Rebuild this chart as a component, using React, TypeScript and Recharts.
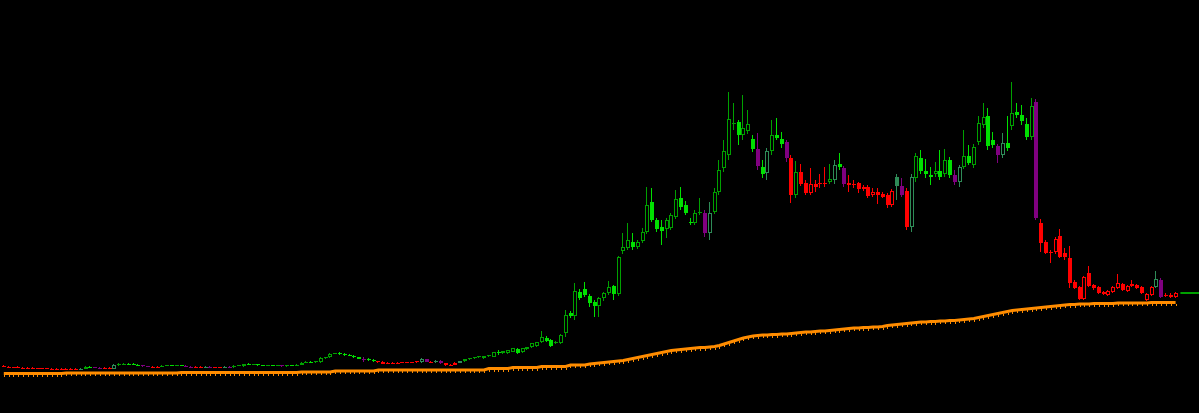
import React from 'react';
import { ComposedChart, Bar, Line, XAxis, YAxis } from 'recharts';

// trend colour per candle: g = green, r = red, p = purple/teal, t = teal
const TREND =
  'rrrrrrrrrr' + 'rrrrrrpggp' + 'prrpgggggp' + 'prrgggggpp' + 'rrpprrppgg' +
  'ggggggggpg' + 'gggggggggg' + 'gggggpggrr' + 'rrrrrrrppr' + 'pprrrpgggg' +
  'gggggggggg' + 'gggggggggg' + 'gggggggggg' + 'gggggggggg' + 'ggggggppgg' +
  'gggggggpgp' + 'gggprgrrrr' + 'rrgpgprrrr' + 'rrrrrrtprp' + 'ggggggggpp' +
  'gggggggppg' + 'gggggprrrr' + 'rrrrrrrrrr' + 'rrrrrrrrrr' + 'pprrr';

const OPEN = [
  134, 133.5, 133, 133, 132.5, 132.5, 132, 132, 131.5, 132,
  131.5, 131.5, 131, 131.5, 131, 131.5, 131, 131.5, 133.5, 133,
  132.5, 132, 132.5, 131.5, 135, 136, 136.5, 136, 135.5, 135,
  134, 133.5, 133, 133.5, 134.5, 135, 134.5, 135, 134.5, 133.5,
  133, 133.5, 133, 133.5, 133, 132.5, 133, 133.5, 133, 134.5,
  134, 136, 135.5, 136, 135, 134.5, 135, 134.5, 135, 134,
  135, 134.5, 135.5, 137.5, 138.5, 138, 138, 142, 143, 146.5,
  147, 146.5, 145.5, 144.5, 143, 141.5, 141, 140, 139, 138,
  136.5, 137.5, 137, 137.5, 138, 137.5, 138, 138, 141, 138.5,
  138, 139.5, 137, 135, 135.5, 137.5, 139, 141, 142, 143,
  142.5, 144, 143.5, 148, 147, 147, 148.5, 151, 148, 151,
  153, 154, 158, 162, 160, 157, 157, 167, 187, 184,
  208, 211, 204, 198, 194, 202, 207, 214, 206, 249,
  252, 258, 253, 259, 268, 298, 280, 273, 271, 272,
  283, 302, 295, 278, 277, 287, 287, 267, 288, 308,
  332, 345, 376, 378, 365, 369, 361, 351, 333, 327,
  349, 365, 361, 358, 342, 305, 328, 317, 307, 316,
  316, 317, 318, 320, 336, 332, 317, 316, 317, 311,
  313, 305, 308, 306, 305, 295, 323, 314, 309, 273,
  322, 342, 329, 325, 326, 329, 326, 340, 325, 318,
  333, 344, 335, 358, 375, 384, 360, 354, 345, 357,
  374, 388, 385, 376, 363, 398, 277, 258, 248, 248,
  264, 247, 242, 218, 213, 201, 227, 215, 213, 208,
  205, 208, 212, 216, 209, 214, 215, 213, 200, 205,
  213, 220, 205, 205, 203,
];

const HIGH = [
  135, 134, 133.5, 134, 133, 133, 133, 132.5, 132.5, 132.5,
  132, 132, 132, 132, 132.5, 132, 132, 134, 134, 133.5,
  133.5, 133, 133, 136, 137, 137.5, 137, 137, 136.5, 135.5,
  134.5, 134, 134, 135, 135.5, 135.5, 135.5, 135.5, 135, 134,
  134, 134, 134, 134, 133.5, 133.5, 134, 134, 135, 135.5,
  136.5, 137, 136.5, 136.5, 135.5, 135.5, 135.5, 135.5, 135.5, 135.5,
  135.5, 136, 138, 139, 139.5, 139.5, 143, 143.5, 147, 147.5,
  148, 147.5, 146, 145.5, 143.5, 143, 142, 141, 139.5, 139,
  138.5, 138, 138, 138.5, 138.5, 138.5, 139.5, 142, 141.5, 139,
  140, 140, 137.5, 136, 138, 139.5, 141.5, 142.5, 143.5, 144.5,
  144.5, 145.5, 148.5, 150, 149.5, 150.5, 152.5, 152, 152.5, 153.5,
  157.5, 158.5, 169, 164, 161, 159, 166, 190, 189, 217,
  211, 218, 206, 200, 203, 208, 219, 215, 244, 267,
  277, 267, 260, 272, 313, 312, 282, 280, 282, 287,
  310, 313, 299, 282, 290, 302, 290, 298, 312, 340,
  360, 408, 397, 380, 405, 390, 365, 367, 340, 352,
  380, 382, 368, 360, 345, 339, 336, 320, 332, 320,
  326, 333, 336, 340, 347, 334, 325, 320, 318, 315,
  315, 312, 312, 308, 307, 311, 326, 322, 312, 326,
  347, 350, 341, 333, 338, 350, 351, 343, 330, 335,
  370, 355, 356, 384, 397, 392, 368, 356, 367, 384,
  418, 397, 395, 382, 402, 401, 281, 260, 250, 263,
  271, 252, 254, 220, 214, 224, 234, 216, 214, 209,
  210, 214, 226, 217, 215, 220, 216, 214, 207, 214,
  229, 222, 207, 207, 208,
];

const LOW = [
  133, 132, 132, 132, 131.5, 131, 131, 131, 131, 131,
  130.5, 130, 130.5, 130.5, 130.5, 130.5, 130.5, 131, 132.5, 132,
  131.5, 131.5, 131, 131, 134, 135, 135.5, 135, 134.5, 133.5,
  133, 132.5, 132.5, 133, 134, 134, 134, 134, 133, 132.5,
  132.5, 132.5, 132.5, 132.5, 132, 132, 132, 132.5, 132.5, 134,
  133.5, 135, 135, 134.5, 134, 134, 134, 134, 133.5, 133.5,
  134, 134, 135, 137, 137.5, 137.5, 137.5, 141, 142.5, 146,
  145, 144, 144, 142.5, 141, 138, 139, 138.5, 137.5, 136,
  136, 136, 136.5, 137, 137, 137, 137.5, 137.5, 138, 137.5,
  137.5, 136.5, 134.5, 134, 135, 137, 138.5, 140.5, 141.5, 142,
  141.5, 143, 143, 145, 146, 146.5, 148, 146.5, 147.5, 150,
  152.5, 153, 157, 158, 153, 156, 156, 163, 182, 180,
  200, 203, 193, 183, 183, 199, 205, 200, 204, 246,
  250, 250, 251, 257, 266, 278, 268, 255, 262, 270,
  281, 290, 285, 275, 275, 285, 263, 260, 286, 305,
  328, 340, 370, 355, 360, 366, 348, 330, 322, 320,
  345, 360, 352, 338, 297, 302, 314, 305, 305, 308,
  312, 313, 316, 316, 330, 313, 308, 312, 307, 309,
  302, 303, 296, 302, 292, 293, 300, 303, 270, 268,
  318, 326, 322, 315, 323, 320, 323, 322, 315, 313,
  331, 335, 332, 355, 372, 350, 352, 337, 342, 349,
  370, 382, 375, 360, 360, 280, 248, 246, 237, 246,
  242, 240, 212, 211, 200, 200, 213, 210, 206, 205,
  204, 207, 211, 209, 208, 213, 211, 206, 199, 204,
  212, 202, 203, 202, 202,
];

const CLOSE = [
  133, 132.5, 132.5, 132, 132, 131.5, 131.5, 131, 132, 131,
  131, 130.5, 131.5, 131, 131.5, 131, 131.5, 133.5, 133, 132.5,
  132, 132.5, 131.5, 135, 136, 136.5, 136, 135.5, 135, 134,
  133.5, 133, 133.5, 134.5, 135, 134.5, 135, 134.5, 133.5, 133,
  133.5, 133, 133.5, 133, 132.5, 133, 133.5, 133, 134.5, 135,
  136, 135.5, 136, 135, 134.5, 135, 134.5, 135, 134, 135,
  134.5, 135.5, 137.5, 138.5, 138, 139, 142, 143, 146.5, 147,
  146.5, 145.5, 144.5, 143, 141.5, 141, 140, 139, 138, 136.5,
  137.5, 137, 137.5, 138, 137.5, 138, 139, 141.5, 138.5, 138,
  139.5, 137, 135, 135.5, 137.5, 139, 141, 142, 143, 144,
  144, 145, 148, 147, 149, 150, 152, 147, 152, 153,
  157, 158, 163, 159, 154, 158, 165, 185, 184, 209,
  202, 205, 197, 194, 202, 207, 213, 206, 243, 253,
  260, 253, 258, 268, 295, 280, 271, 269, 280, 285,
  301, 293, 287, 277, 287, 288, 267, 287, 308, 330,
  349, 381, 377, 365, 372, 376, 351, 334, 326, 349,
  365, 362, 356, 342, 305, 328, 316, 307, 316, 313,
  317, 316, 321, 335, 333, 316, 315, 315, 311, 313,
  304, 308, 305, 303, 295, 309, 314, 305, 273, 323,
  344, 329, 326, 323.5, 329, 323, 340, 325, 318, 333,
  344, 337, 353, 377, 383, 354, 355, 345, 357, 352,
  387, 385, 379, 363, 394, 282, 257, 247, 247, 261,
  243, 243, 217, 212, 201, 223, 214, 212, 207, 206.5,
  209, 213, 217, 210, 214, 215.5, 212, 207, 206, 213,
  221, 203, 204.5, 203.5, 207,
];

const MA = [
  126.5, 126.5, 126.5, 126.5, 126.5, 126.5, 126.5, 126.5, 126.5, 126.5,
  126.5, 126.5, 126.5, 127, 127, 127, 127, 127, 127, 127,
  127, 127, 127, 127, 127, 127, 127, 127, 127, 127,
  127, 127, 127, 127, 127, 127, 127, 127.5, 127.5, 127.5,
  127.5, 127.5, 127.5, 127.5, 127.5, 127.5, 127.5, 127.5, 127.5, 127.5,
  127.5, 127.5, 127.5, 127.5, 127.5, 127.5, 127.5, 127.5, 127.5, 127.5,
  127.5, 127.5, 128, 128, 128, 128, 128, 128, 128, 129,
  129, 129, 129, 129, 129, 129, 129, 129, 130, 130,
  130, 130, 130, 130, 130, 130, 130, 130, 130, 130,
  130, 130, 130, 130, 130, 130, 130, 130, 130, 130,
  130, 131.5, 131.5, 131.5, 131.5, 131.5, 132.5, 132.5, 132.5, 132.5,
  132.5, 132.5, 133.5, 133.5, 133.5, 133.5, 133.5, 133.5, 135, 135,
  135, 135, 136, 136.5, 137, 137.5, 138, 138.5, 139, 139.5,
  140.5, 141.5, 142.5, 143.5, 144.5, 145.5, 146.5, 147.5, 148.5, 149.5,
  150, 150.5, 151, 151.5, 152, 152.5, 152.5, 153, 153.5, 154.5,
  156, 157.5, 159, 160.5, 162, 163, 164, 164.5, 165, 165,
  165.5, 165.5, 166, 166, 166.5, 167, 167.5, 168, 168, 168.5,
  169, 169, 169.5, 170, 170.5, 171, 171.5, 172, 172, 172.5,
  172.5, 173, 173, 173.5, 174.5, 175, 175.5, 176, 176.5, 177,
  177.5, 178, 178, 178.5, 178.5, 179, 179, 179.5, 179.5, 180,
  180.5, 181, 181.5, 182.5, 183.5, 184.5, 185.5, 186.5, 187.5, 188.5,
  189.5, 190, 190.5, 191, 191.5, 192, 192.5, 193, 193.5, 194,
  194.5, 195, 195.5, 195.5, 196, 196, 196, 196.5, 196.5, 196.5,
  196.5, 196.5, 197, 197, 197, 197, 197, 197, 197, 197.5,
  197.5, 197.5, 197.5, 197.5, 197.5,
];

// current price line drawn in the empty slots right of the last candle
const PRICE_LINE = [207, 207, 207, 207, 207];

const COLORS: Record<string, { up: string; down: string }> = {
  g: { up: '#00a000', down: '#00e000' },
  r: { up: '#ff0000', down: '#ff0000' },
  p: { up: '#2e8b57', down: '#800080' },
  t: { up: '#2e8b57', down: '#2e8b57' },
};
const MA_COLOR = '#ff8c00';

const rows = [
  ...OPEN.map((o, i) => ({
    idx: i,
    o,
    h: HIGH[i],
    l: LOW[i],
    c: CLOSE[i],
    t: TREND[i],
    range: [LOW[i], HIGH[i]],
    ma: MA[i],
  })),
  ...PRICE_LINE.map((p, j) => ({ idx: OPEN.length + j, last: p })),
];

const Candle = (props: any) => {
  const { x, y, width, height, payload } = props;
  if (!payload || payload.o == null) return null;
  const { o, h, l, c, t } = payload;
  const top = Math.min(y, y + height);
  const k = Math.abs(height) / (h - l);
  const py = (v: number) => top + (h - v) * k;
  const left = Math.round(x + width / 2 - 2);
  const wx = left + 1.5;
  const hollow = c >= o;
  const color = hollow ? COLORS[t].up : COLORS[t].down;
  const yH = Math.round(py(h));
  const yL = Math.round(py(l));
  const bTop = Math.round(py(Math.max(o, c)));
  let bBot = Math.round(py(Math.min(o, c)));
  if (bBot - bTop < 1) bBot = bTop + 1;

  if (hollow && bBot - bTop > 2) {
    return (
      <g shapeRendering="crispEdges">
        <line x1={wx} x2={wx} y1={yH} y2={bTop} stroke={color} strokeWidth={1} />
        <line x1={wx} x2={wx} y1={bBot} y2={yL} stroke={color} strokeWidth={1} />
        <rect x={left + 0.5} y={bTop + 0.5} width={3} height={bBot - bTop - 1} fill="none" stroke={color} strokeWidth={1} />
      </g>
    );
  }
  return (
    <g shapeRendering="crispEdges">
      <line x1={wx} x2={wx} y1={yH} y2={yL} stroke={color} strokeWidth={1} />
      <rect x={left} y={bTop} width={4} height={bBot - bTop} fill={color} />
    </g>
  );
};

const MaTick = (props: any) => {
  const { cx, cy, index } = props;
  if (cx == null || cy == null) return <g key={index} />;
  return <rect key={index} x={Math.round(cx)} y={Math.round(cy) + 1} width={1} height={2} fill={MA_COLOR} />;
};

export default function App() {
  return (
    <div style={{ position: 'fixed', left: 0, top: 0, width: 1199, height: 413, background: '#000', overflow: 'hidden' }}>
      <ComposedChart
        width={1202}
        height={413}
        data={rows}
        margin={{ top: 0, right: 0, bottom: 0, left: 1.4 }}
        barCategoryGap={0}
        barGap={0}
      >
        <XAxis dataKey="idx" type="category" hide />
        <YAxis type="number" domain={[87, 500]} allowDataOverflow hide />
        <Bar dataKey="range" shape={Candle} isAnimationActive={false} />
        <Line
          dataKey="ma"
          stroke={MA_COLOR}
          strokeWidth={3}
          dot={MaTick}
          activeDot={false}
          isAnimationActive={false}
        />
        <Line dataKey="last" stroke="#00a000" strokeWidth={2} dot={false} activeDot={false} isAnimationActive={false} />
      </ComposedChart>
    </div>
  );
}
